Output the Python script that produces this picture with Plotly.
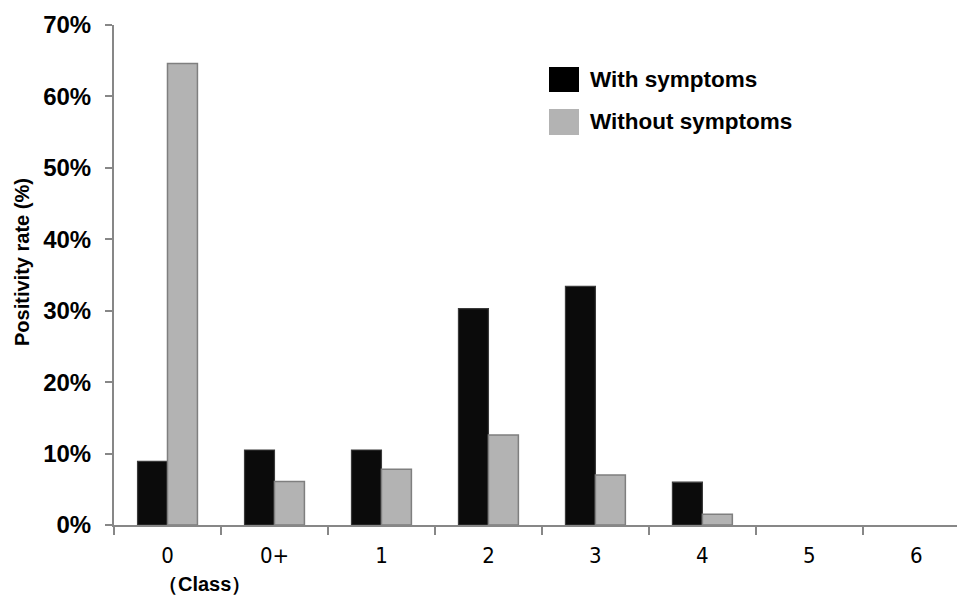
import plotly.graph_objects as go

categories = ["0", "0+", "1", "2", "3", "4", "5", "6"]
with_symptoms = [8.9, 10.5, 10.5, 30.3, 33.4, 6.0, 0, 0]
without_symptoms = [64.6, 6.1, 7.8, 12.6, 7.0, 1.5, 0, 0]
y_ticks = [0, 10, 20, 30, 40, 50, 60, 70]
series_names = ["With symptoms", "Without symptoms"]

BOLD = "Liberation Sans, Arial, sans-serif"
NARROW = "Liberation Sans Narrow, DejaVu Sans Condensed, Arial Narrow, sans-serif"

fig = go.Figure()
fig.add_trace(go.Bar(
    x=categories, y=with_symptoms, name=series_names[0],
    marker=dict(color="#0b0b0b",
                line=dict(color="#3a3a3a", width=[1.2 if v > 0 else 0 for v in with_symptoms])),
    width=0.28, offset=-0.28, showlegend=False,
))
fig.add_trace(go.Bar(
    x=categories, y=without_symptoms, name=series_names[1],
    marker=dict(color="#b3b3b3",
                line=dict(color="#7f7f7f", width=[1.5 if v > 0 else 0 for v in without_symptoms])),
    width=0.28, offset=0.0, showlegend=False,
))

# custom legend
leg_items = [(series_names[0], "#000000", 67, 92), (series_names[1], "#b3b3b3", 109, 135)]
for name, col, y0, y1 in leg_items:
    fig.add_shape(type="rect", xref="paper", yref="paper",
                  x0=(549 - 114) / (957 - 114), x1=(579 - 114) / (957 - 114),
                  y0=(525 - y1) / 500, y1=(525 - y0) / 500,
                  fillcolor=col, line=dict(width=0), layer="above")
    fig.add_annotation(text="<b>%s</b>" % name, xref="paper", yref="paper",
                       x=(588 - 114) / (957 - 114), y=(525 - (y0 + y1) / 2) / 500,
                       xanchor="left", yanchor="middle", showarrow=False,
                       font=dict(family=BOLD, size=22.5, color="#000"))

# axis title
fig.add_annotation(text="<b>Positivity rate (%)</b>", xref="paper", yref="paper",
                   x=(22 - 114) / (957 - 114), y=(525 - 262) / 500,
                   xanchor="center", yanchor="middle", textangle=-90, showarrow=False,
                   font=dict(family=BOLD, size=20, color="#000"))
fig.add_annotation(text="<b>（Class）</b>", xref="paper", yref="paper",
                   x=(204 - 114) / (957 - 114), y=(525 - 584) / 500,
                   xanchor="center", yanchor="middle", showarrow=False,
                   font=dict(family=BOLD, size=20, color="#000"))

fig.update_layout(
    width=957, height=598,
    margin=dict(l=114, r=0, t=25, b=73),
    paper_bgcolor="white", plot_bgcolor="white",
    barmode="overlay",
    xaxis=dict(
        type="category", range=[-0.5, 7.38],
        showline=True, linecolor="#878787", linewidth=2,
        ticks="outside", tickson="boundaries", ticklen=8, tickcolor="#878787", tickwidth=1.5,
        showgrid=False, zeroline=False,
        tickfont=dict(family=NARROW, size=22, color="#000"),
        ticklabelstandoff=10,
    ),
    yaxis=dict(
        range=[0, 70], tickvals=y_ticks, ticktext=["<b>%d%%</b>" % v for v in y_ticks],
        showline=True, linecolor="#878787", linewidth=2,
        ticks="outside", ticklen=7, tickcolor="#878787", tickwidth=1.5,
        showgrid=False, zeroline=False,
        tickfont=dict(family=BOLD, size=24, color="#000"),
        ticklabelstandoff=9,
    ),
)

fig.write_html("out.html")
